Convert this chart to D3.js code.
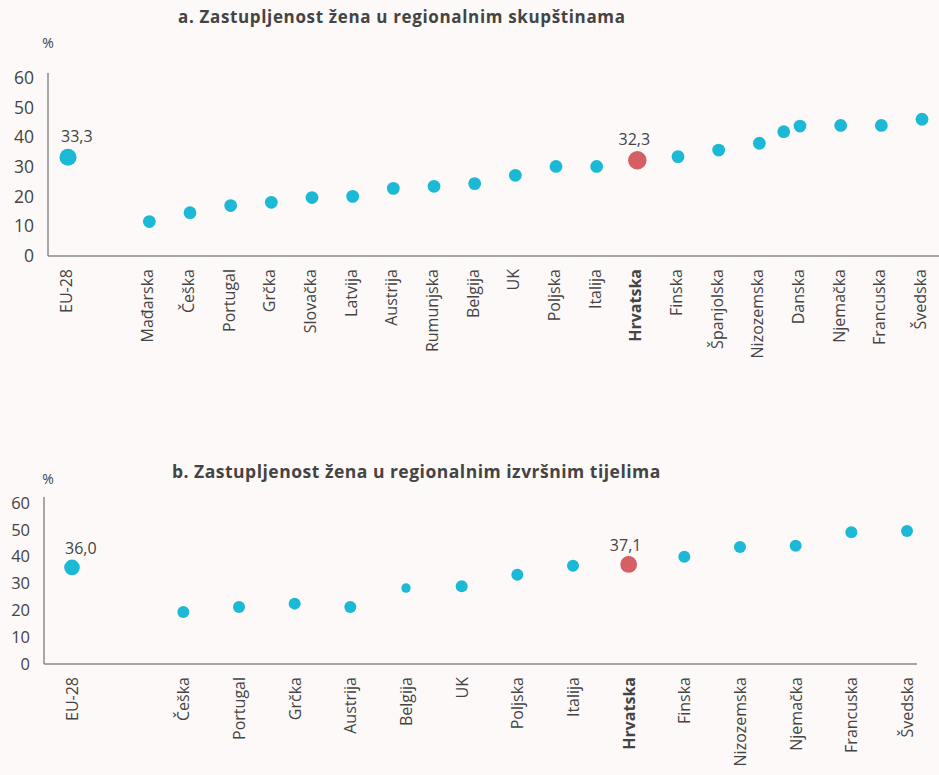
<!DOCTYPE html>
<html>
<head>
<meta charset="utf-8">
<script src="https://cdn.jsdelivr.net/npm/d3@7"></script>
<style>
  html, body { margin: 0; padding: 0; background: #fcf9f8; }
  svg { display: block; font-family: "Open Sans", "Noto Sans", sans-serif; }
</style>
</head>
<body>
<svg id="chart" width="939" height="775"></svg>
<script>
// ---- Panel a: regional assemblies ----
const labelsA = ["EU-28", "Mađarska", "Češka", "Portugal", "Grčka", "Slovačka", "Latvija", "Austrija",
  "Rumunjska", "Belgija", "UK", "Poljska", "Italija", "Hrvatska", "Finska", "Španjolska",
  "Nizozemska", "", "Danska", "Njemačka", "Francuska", "Švedska"];
// column position of each point (EU-28 sits apart, one unlabelled point between columns)
const slotsA = [0, 2, 3, 4, 5, 6, 7, 8, 9, 10, 11, 12, 13, 14, 15, 16, 17, 17.6, 18, 19, 20, 21];
const valuesA = [33.3, 11.6, 14.6, 17.0, 18.1, 19.7, 20.1, 22.8, 23.5, 24.4, 27.2, 30.2, 30.2, 32.3,
  33.5, 35.7, 38.0, 41.9, 43.8, 44.0, 44.0, 46.1];

// ---- Panel b: regional executives ----
const labelsB = ["EU-28", "Češka", "Portugal", "Grčka", "Austrija", "Belgija", "UK", "Poljska",
  "Italija", "Hrvatska", "Finska", "Nizozemska", "Njemačka", "Francuska", "Švedska"];
const slotsB = [0, 2, 3, 4, 5, 6, 7, 8, 9, 10, 11, 12, 13, 14, 15];
const valuesB = [36.0, 19.4, 21.2, 22.5, 21.2, 28.3, 29.0, 33.3, 36.6, 37.1, 40.0, 43.6, 44.1, 49.1, 49.6];

const yTicks = [0, 10, 20, 30, 40, 50, 60];
const titles = ["a. Zastupljenost žena u regionalnim skupštinama",
                "b. Zastupljenost žena u regionalnim izvršnim tijelima"];
const unitLabel = "%";
const highlight = "Hrvatska";
const average = "EU-28";

const CYAN = "#1bb9d5", RED = "#d65f63", TEXT = "#444", AXIS = "#8a8a8a";
const fmt = v => d3.format(".1f")(v).replace(".", ",");

const svg = d3.select("#chart");

function panel(cfg) {
  const g = svg.append("g");
  const x = d3.scaleLinear().domain([0, cfg.maxSlot]).range(cfg.xRange);
  const y = d3.scaleLinear().domain([0, 60]).range(cfg.yRange);

  // title and unit
  g.append("text").attr("x", cfg.titleX).attr("y", cfg.titleY)
    .attr("text-anchor", "start").attr("font-size", cfg.titleSize).attr("font-weight", 700)
    .attr("letter-spacing", cfg.titleSpacing)
    .attr("fill", TEXT).text(cfg.title);
  g.append("text").attr("x", 48).attr("y", cfg.unitY)
    .attr("text-anchor", "middle").attr("font-size", 14).attr("fill", TEXT).text(unitLabel);

  // y axis
  const yAxis = g.append("g").attr("transform", `translate(${cfg.xAxisLeft},0)`)
    .call(d3.axisLeft(y).tickValues(yTicks).tickSize(0).tickPadding(cfg.tickPad));
  yAxis.select(".domain").remove();
  yAxis.selectAll("text").attr("font-size", cfg.tickFont).attr("fill", TEXT)
    .attr("font-family", "'Open Sans', sans-serif");
  g.append("line").attr("x1", cfg.xAxisLeft).attr("x2", cfg.xAxisLeft)
    .attr("y1", cfg.yAxisTop).attr("y2", y(0))
    .attr("stroke", AXIS).attr("stroke-width", 1.5);

  // x axis line
  g.append("line").attr("x1", cfg.xAxisLeft).attr("x2", cfg.xAxisRight)
    .attr("y1", y(0)).attr("y2", y(0))
    .attr("stroke", AXIS).attr("stroke-width", 1.5);

  const pts = cfg.labels.map((l, i) => ({ label: l, slot: cfg.slots[i], value: cfg.values[i] }));

  // category labels, rotated
  g.append("g").selectAll("text").data(pts.filter(d => d.label !== ""))
    .join("text")
    .attr("transform", d => `translate(${x(d.slot) + cfg.labelDx},${y(0) + 13}) rotate(-90)`)
    .attr("text-anchor", "end").attr("dominant-baseline", "central")
    .attr("font-size", 16).attr("fill", TEXT)
    .attr("font-weight", d => d.label === highlight ? 700 : 400)
    .text(d => d.label);

  // points
  const radius = d => d.label === highlight ? cfg.rHi : d.label === average ? cfg.rAvg
    : (cfg.small && cfg.small.includes(d.label) ? cfg.rSmall : cfg.r);
  g.append("g").selectAll("circle").data(pts)
    .join("circle")
    .attr("cx", d => x(d.slot)).attr("cy", d => y(d.value))
    .attr("r", radius)
    .attr("fill", d => d.label === highlight ? RED : CYAN);

  // value labels on EU-28 and Hrvatska
  g.append("g").selectAll("text").data(pts.filter(d => d.label === highlight || d.label === average))
    .join("text")
    .attr("x", d => d.label === average ? x(d.slot) - 7 : x(d.slot) - 3)
    .attr("y", d => y(d.value) - cfg.valueDy)
    .attr("text-anchor", d => d.label === average ? "start" : "middle")
    .attr("font-size", 16).attr("fill", TEXT)
    .text(d => fmt(d.value));
}

panel({
  title: titles[0], labels: labelsA, slots: slotsA, values: valuesA,
  maxSlot: 21, xRange: [68, 922], yRange: [256, 78],
  titleX: 178, titleY: 23, titleSize: 17, titleSpacing: 0.65,
  unitY: 48, xAxisLeft: 48, xAxisRight: 939, yAxisTop: 73,
  tickPad: 14, tickFont: 17.5, labelDx: -2,
  r: 6.4, rAvg: 8.5, rHi: 9.2, valueDy: 15
});

panel({
  title: titles[1], labels: labelsB, slots: slotsB, values: valuesB,
  maxSlot: 15, xRange: [72, 907], yRange: [664, 503],
  titleX: 172, titleY: 478, titleSize: 17.5, titleSpacing: 0.5,
  unitY: 484, xAxisLeft: 44, xAxisRight: 917, yAxisTop: 497,
  tickPad: 14, tickFont: 16.5, labelDx: 0,
  r: 6, rAvg: 7.8, rHi: 8.4, rSmall: 4.7, small: ["Belgija"], valueDy: 13
});
</script>
</body>
</html>
